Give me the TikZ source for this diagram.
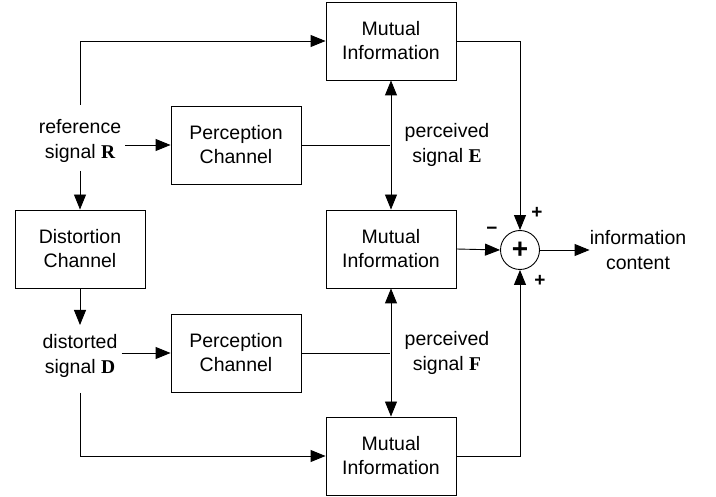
\documentclass[tikz,border=0pt]{standalone}
\usepackage{fontspec}
\setmainfont{Liberation Sans}
\newfontfamily\serifbf{Liberation Serif}
\usetikzlibrary{arrows.meta}
\begin{document}
\begin{tikzpicture}[x=1pt,y=-1pt,
  box/.style={draw, line width=0.9pt, minimum width=130pt, minimum height=78pt, align=center, font=\fontsize{19.5}{24}\selectfont, inner sep=0pt},
  lbl/.style={align=center, font=\fontsize{19.5}{25}\selectfont, inner sep=0pt},
  sg/.style={font=\fontsize{19}{24}\selectfont\bfseries, inner sep=0pt},
  line/.style={line width=0.9pt},
  arr/.style={line width=0.9pt, -{Triangle[length=15pt,width=12pt]}},
  darr/.style={line width=0.9pt, {Triangle[length=15pt,width=12pt]}-{Triangle[length=15pt,width=12pt]}}]
\useasboundingbox (0,0) rectangle (716,497);
\node[box] (mi1) at (391,41) {Mutual\\Information};
\node[box] (mi2) at (391,249) {Mutual\\Information};
\node[box] (mi3) at (391,456) {Mutual\\Information};
\node[box] (pc1) at (236,145) {Perception\\Channel};
\node[box] (pc2) at (236,353) {Perception\\Channel};
\node[box] (dc) at (80,249) {Distortion\\Channel};
\node[draw, circle, line width=0.9pt, minimum size=39pt, inner sep=0pt, font=\fontsize{28}{28}\selectfont\bfseries] (sum) at (520,250) {+};
\node[lbl] (ref) at (80,141) {reference\\signal {\serifbf\bfseries R}};
\node[lbl] (dis) at (80,356) {distorted\\signal {\serifbf\bfseries D}};
\node[lbl] (pe) at (447,145) {perceived\\signal {\serifbf\bfseries E}};
\node[lbl] (pf) at (447,353) {perceived\\signal {\serifbf\bfseries F}};
\node[lbl] (out) at (638,250) {information\\content};
\node[sg] (p1) at (537,213) {+};
\node[sg] (m1) at (492,231) {\textminus};
\node[sg] (p2) at (540,281) {+};
\coordinate (rtop) at (80,105);
\coordinate (rbot) at (80,171);
\coordinate (dtop) at (80,325);
\coordinate (dbot) at (80,393);
\coordinate (j1) at (390,145);
\coordinate (j2) at (390,353);
% reference to top MI
\draw[arr] (rtop) |- (mi1.west);
\draw[arr] (ref.east |- pc1.west) ++(4,0) -- (pc1.west);
\draw[arr] (rbot) -- (dc.north);
\draw[arr] (dc.south) -- (dtop);
\draw[arr] (dis.east |- pc2.west) ++(4,0) -- (pc2.west);
\draw[arr] (dbot) |- (mi3.west);
% perception outputs
\draw[darr] (mi1.south) -- (mi2.north);
\draw[darr] (mi2.south) -- (mi3.north);
\draw[line] (pc1.east) -- (j1);
\draw[line] (pc2.east) -- (j2);
% to sum
\draw[arr] (mi1.east) -| (sum.north);
\draw[arr] (mi3.east) -| (sum.south);
\draw[arr] (mi2.east) -- (sum.west);
\draw[arr] (sum.east) -- (out.west);
\end{tikzpicture}
\end{document}
